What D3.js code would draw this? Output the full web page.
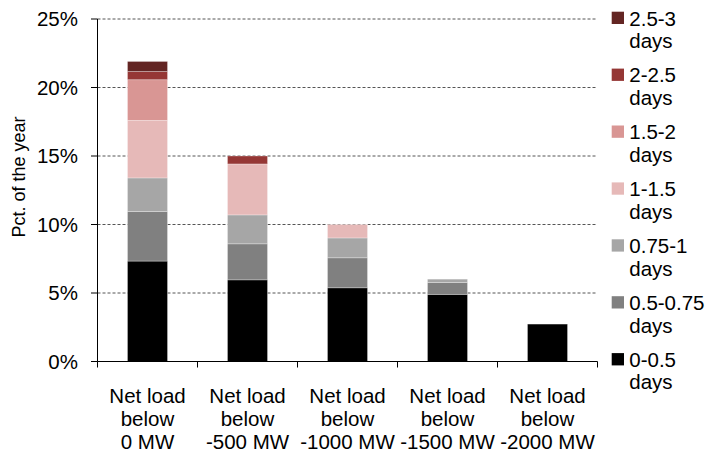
<!DOCTYPE html>
<html>
<head>
<meta charset="utf-8">
<script src="https://cdn.jsdelivr.net/npm/d3@7"></script>
<style>
  html, body { margin: 0; padding: 0; background: #fff; }
  svg { display: block; }
  text { font-family: "Liberation Sans", Arial, sans-serif; fill: #000; }
</style>
</head>
<body>
<svg id="chart" width="706" height="454"></svg>
<script>
// ---- data ----
const categories = ["0 MW", "-500 MW", "-1000 MW", "-1500 MW", "-2000 MW"];
const categoryLines = [
  ["Net load", "below", "0 MW"],
  ["Net load", "below", "-500 MW"],
  ["Net load", "below", "-1000 MW"],
  ["Net load", "below", "-1500 MW"],
  ["Net load", "below", "-2000 MW"]
];
const seriesNames = ["0-0.5", "0.5-0.75", "0.75-1", "1-1.5", "1.5-2", "2-2.5", "2.5-3"];
const s_0_05   = [7.33, 5.96, 5.38, 4.90, 2.73];
const s_05_075 = [3.62, 2.63, 2.19, 0.87, 0];
const s_075_1  = [2.45, 2.11, 1.45, 0.24, 0];
const s_1_15   = [4.20, 3.72, 0.98, 0, 0];
const s_15_2   = [2.97, 0, 0, 0, 0];
const s_2_25   = [0.60, 0.58, 0, 0, 0];
const s_25_3   = [0.73, 0, 0, 0, 0];
const seriesValues = [s_0_05, s_05_075, s_075_1, s_1_15, s_15_2, s_2_25, s_25_3];
const seriesColors = ["#000000", "#808080", "#a6a6a6", "#e6b9b8", "#d99694", "#953735", "#632523"];
const yTicks = [0, 5, 10, 15, 20, 25];
const yTickLabels = ["0%", "5%", "10%", "15%", "20%", "25%"];
const yTitle = "Pct. of the year";

// ---- layout ----
const svg = d3.select("#chart");
const FS = 20.5;

function addText(g, x, y, str, anchor, rot, fs) {
  return g.append("text")
    .attr("transform", `translate(${x},${y}) rotate(${rot || 0})`)
    .attr("text-anchor", anchor)
    .style("font-size", (fs || FS) + "px")
    .text(str);
}

const x = d3.scaleBand().domain(categories).range([97.5, 597.5]).paddingInner(0).paddingOuter(0);
const barW = 40;
const y = d3.scaleLinear().domain([0, 25]).range([361.5, 19]);

// stacked data
const table = categories.map((c, i) => {
  const o = { cat: c };
  seriesNames.forEach((s, j) => o[s] = seriesValues[j][i]);
  return o;
});
const stacked = d3.stack().keys(seriesNames)(table);

// gridlines
svg.append("g").selectAll("line")
  .data(yTicks.filter(d => d > 0))
  .join("line")
  .attr("x1", 97.5).attr("x2", 597.5)
  .attr("y1", d => y(d)).attr("y2", d => y(d))
  .attr("stroke", "#555")
  .attr("stroke-width", 1)
  .attr("stroke-dasharray", "3,2");

// bars
svg.append("g").selectAll("g")
  .data(stacked)
  .join("g")
  .attr("fill", (d, i) => seriesColors[i])
  .selectAll("rect")
  .data(d => d.filter(p => p[1] - p[0] > 0))
  .join("rect")
  .attr("x", d => x(d.data.cat) + x.bandwidth() / 2 - barW / 2)
  .attr("width", barW)
  .attr("y", d => y(d[1]))
  .attr("height", d => y(d[0]) - y(d[1]))
  .attr("stroke", "rgba(255,255,255,0.35)")
  .attr("stroke-width", 0.8);

// y axis
const yAxis = svg.append("g");
yAxis.append("line").attr("x1", 97.5).attr("x2", 97.5).attr("y1", y(25)).attr("y2", y(0))
  .attr("stroke", "#000").attr("stroke-width", 1);
yTicks.forEach((t, i) => {
  yAxis.append("line").attr("x1", 91).attr("x2", 97.5).attr("y1", y(t)).attr("y2", y(t))
    .attr("stroke", "#000").attr("stroke-width", 1);
  addText(yAxis, 78, y(t) + 7.3, yTickLabels[i], "end");
});

// x axis
const xAxis = svg.append("g");
xAxis.append("line").attr("x1", 97.5).attr("x2", 597.5).attr("y1", y(0)).attr("y2", y(0))
  .attr("stroke", "#000").attr("stroke-width", 1);
const bounds = categories.map(c => x(c)).concat([x.range()[1]]);
bounds.forEach(b => {
  xAxis.append("line").attr("x1", b).attr("x2", b).attr("y1", y(0)).attr("y2", y(0) + 6)
    .attr("stroke", "#000").attr("stroke-width", 1);
});
categories.forEach((c, i) => {
  const cx = x(c) + x.bandwidth() / 2;
  categoryLines[i].forEach((ln, k) => {
    addText(xAxis, cx, 403.3 + k * 23, ln, "middle");
  });
});

// y title
addText(svg, 24.5, 177, yTitle, "middle", -90, 18);

// legend
const legend = svg.append("g");
const order = seriesNames.map((s, i) => i).reverse();
order.forEach((si, k) => {
  const oy = k * 56.9;
  legend.append("rect").attr("x", 611.7).attr("y", 11.7 + oy).attr("width", 12.3).attr("height", 12.3)
    .attr("fill", seriesColors[si]);
  addText(legend, 629.3, 25.5 + oy, seriesNames[si], "start");
  addText(legend, 629.3, 48 + oy, "days", "start");
});
</script>
</body>
</html>
